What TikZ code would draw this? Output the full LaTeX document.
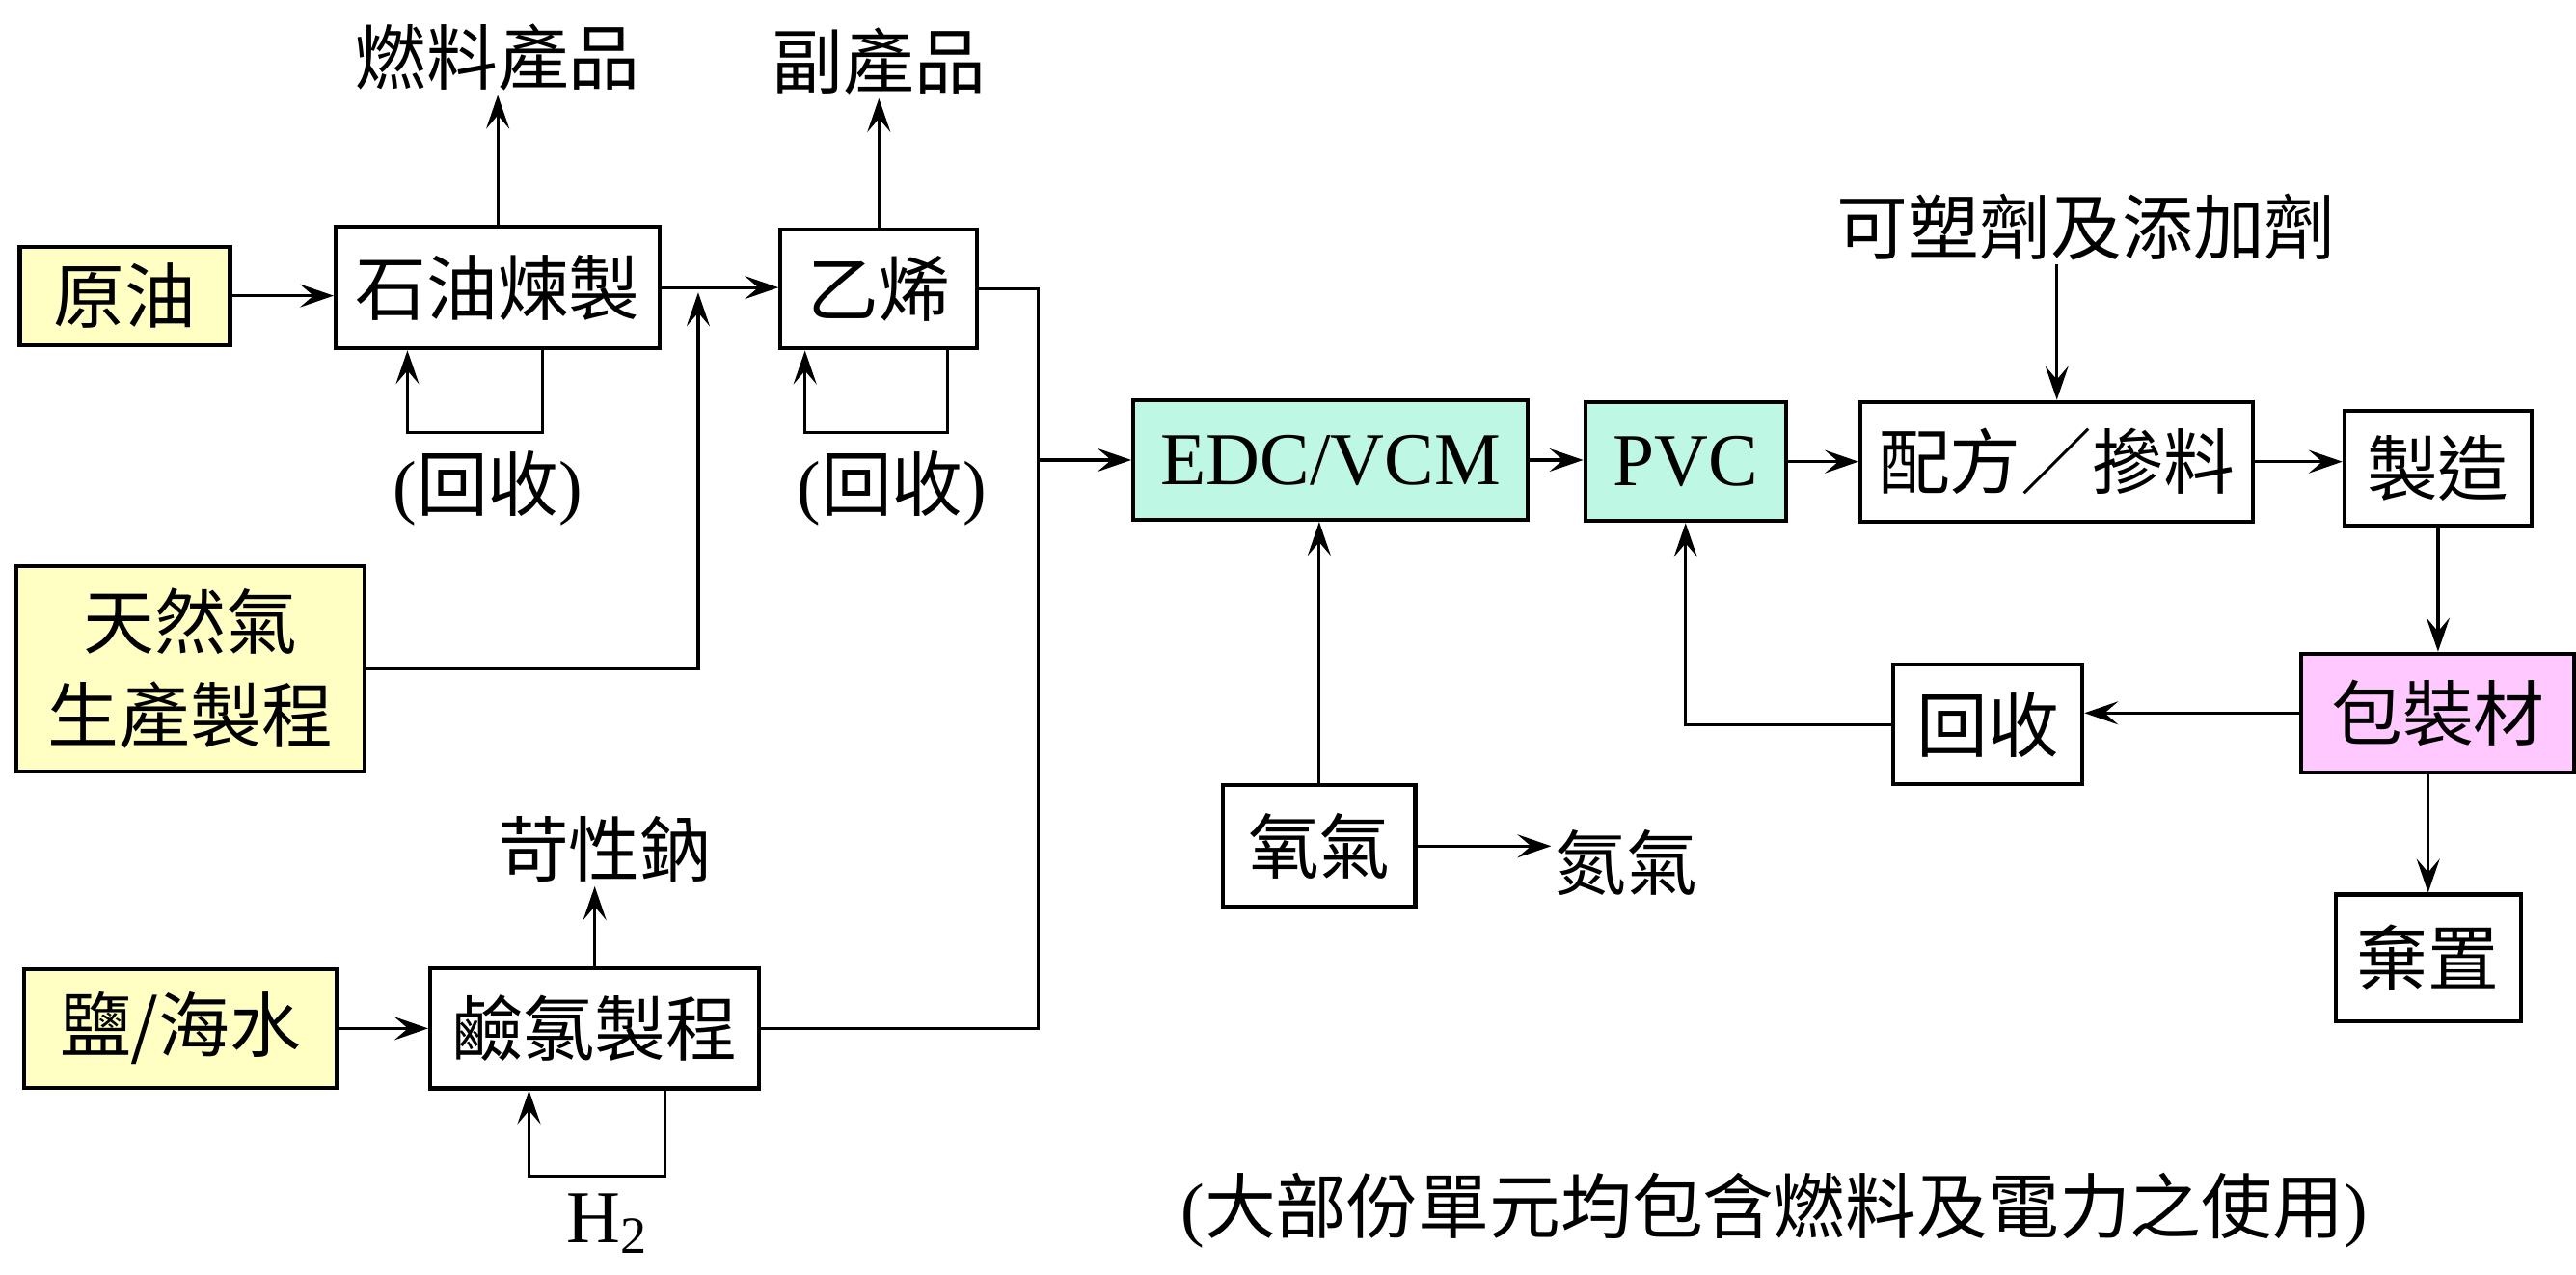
\documentclass[tikz,border=0pt]{standalone}
\usepackage{fontspec}
\setmainfont{Liberation Serif}
\newfontfamily\cjk{Noto Sans CJK TC}
\usetikzlibrary{arrows.meta}

\definecolor{feedyellow}{RGB}{255,255,196}
\definecolor{vinylteal}{RGB}{190,248,228}
\definecolor{packpink}{RGB}{255,200,255}

\tikzset{
  box/.style={draw, line width=1.2pt, inner sep=0pt, align=center},
  feed/.style={box, fill=feedyellow},
  core/.style={box, fill=vinylteal},
  lbl/.style={inner sep=1pt},
  latin/.style={font=\fontsize{22}{26}\selectfont\rmfamily},
  arr/.style={->, line width=0.9pt},
  >={Stealth[length=3.5mm,width=2.4mm,inset=1.4mm]}
}

\begin{document}
\begin{tikzpicture}[x=0.017034cm, y=-0.017034cm, font=\fontsize{21}{27.5}\selectfont\cjk]
                    \useasboundingbox (0,0) rectangle (1568,776);
                    % Nodes
                    \node[feed, minimum width=2.18cm, minimum height=1.02cm] (crude) at (76,180) {原油};
                    \node[box, minimum width=3.36cm, minimum height=1.26cm] (refine) at (303,175) {石油煉製};
                    \node[box, minimum width=2.04cm, minimum height=1.23cm] (ethylene) at (535,176) {乙烯};
                    \node[feed, minimum width=3.61cm, minimum height=2.13cm] (natgas) at (116,407) {天然氣\\生產製程};
                    \node[feed, minimum width=3.24cm, minimum height=1.23cm] (salt) at (110,626) {鹽/海水};
                    \node[box, minimum width=3.41cm, minimum height=1.24cm] (chlor) at (362,626) {鹼氯製程};
                    \node[core, latin, minimum width=4.09cm, minimum height=1.24cm] (edc) at (810,280) {EDC/VCM};
                    \node[core, latin, minimum width=2.08cm, minimum height=1.23cm] (pvc) at (1026,281) {PVC};
                    \node[box, minimum width=4.07cm, minimum height=1.24cm] (blend) at (1252,281) {配方／摻料};
                    \node[box, minimum width=1.94cm, minimum height=1.19cm] (make) at (1484,285) {製造};
                    \node[box, fill=packpink, minimum width=2.83cm, minimum height=1.23cm] (pack) at (1484,434) {包裝材};
                    \node[box, minimum width=1.96cm, minimum height=1.24cm] (recover) at (1210,441) {回收};
                    \node[box, minimum width=1.92cm, minimum height=1.31cm] (dispose) at (1478,583) {棄置};
                    \node[box, minimum width=1.99cm, minimum height=1.26cm] (oxygen) at (803,515) {氧氣};
                    % Labels
                    \node[lbl] (fuel) at (303,35) {燃料產品};
                    \node[lbl] (byprod) at (535,37) {副產品};
                    \node[lbl] (recyc1) at (297,297) {{\rmfamily(}回收{\rmfamily)}};
                    \node[lbl] (recyc2) at (543,297) {{\rmfamily(}回收{\rmfamily)}};
                    \node[lbl] (caustic) at (368,517) {苛性鈉};
                    \node[lbl, latin] (hydro) at (370,745) {H\textsubscript{2}};
                    \node[lbl] (additive) at (1270,138) {可塑劑及添加劑};
                    \node[lbl] (nitrogen) at (990,525) {氮氣};
                    \node[lbl] (note) at (1080,737) {{\rmfamily(}大部份單元均包含燃料及電力之使用{\rmfamily)}};
                    \coordinate (ngin) at (425,178);
                    \coordinate (bus) at (632,280);
                    % Edges
                    \draw[arr] (crude.east) -- (crude.east -| refine.west);
                    \draw[arr] (refine.east) -- (refine.east -| ethylene.west);
                    \draw[arr] (refine.north) -- (fuel.south);
                    \draw[arr] (ethylene.north) -- (byprod.south);
                    \draw[arr] (refine.south) ++(27,0) -- ++(0,50) -- ++(-82,0) -- ++(0,-50);
                    \draw[arr] (ethylene.south) ++(42,0) -- ++(0,50) -- ++(-87,0) -- ++(0,-50);
                    \draw[arr] (natgas.east) -| (ngin);
                    \draw[line width=0.9pt] (ethylene.east) -| (bus);
                    \draw[line width=0.9pt] (chlor.east) -| (bus);
                    \draw[arr] (bus) -- (edc.west);
                    \draw[arr] (salt.east) -- (chlor.west);
                    \draw[arr] (chlor.north) -- (chlor.north |- caustic.south);
                    \draw[arr] (chlor.south) ++(43,0) -- ++(0,52) -- ++(-83,0) -- ++(0,-52);
                    \draw[arr] (edc.east) -- (edc.east -| pvc.west);
                    \draw[arr] (pvc.east) -- (pvc.east -| blend.west);
                    \draw[arr] (blend.east) -- (blend.east -| make.west);
                    \draw[arr] (additive.south -| blend.north) -- (blend.north);
                    \draw[arr] (make) -- (pack);
                    \draw[arr] (pack.west) -- (pack.west -| recover.east);
                    \draw[arr] (recover.west) -| (pvc.south);
                    \draw[arr] (pack.south -| dispose.north) -- (dispose.north);
                    \draw[arr] (oxygen.north) -- (oxygen.north |- edc.south);
                    \draw[arr] (oxygen.east) -- (oxygen.east -| nitrogen.west);
                \end{tikzpicture}
\end{document}
